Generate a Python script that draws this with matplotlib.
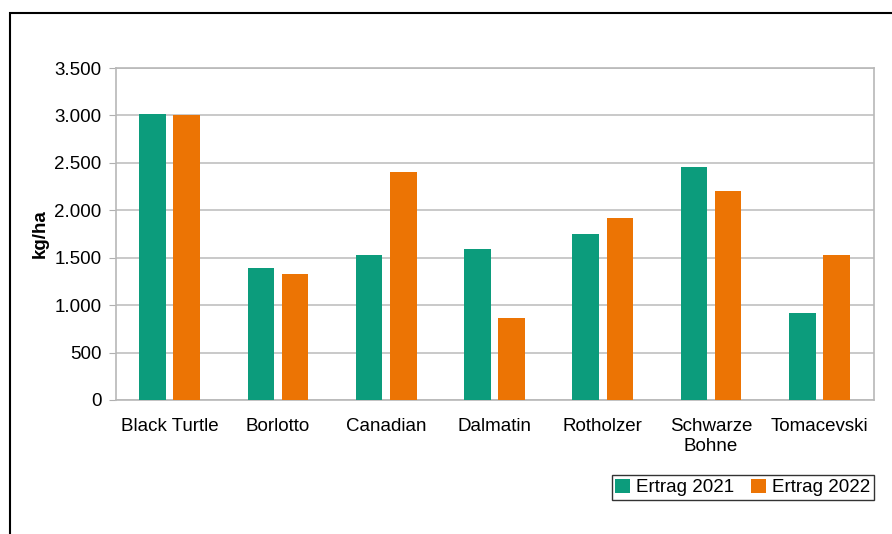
import numpy as np
import matplotlib.pyplot as plt
from matplotlib.patches import Rectangle

plt.rcParams["font.family"] = ["Liberation Sans", "DejaVu Sans"]

# Daten: Ertrag in kg/ha
sorten = ["Black Turtle", "Borlotto", "Canadian", "Dalmatin", "Rotholzer",
          "Schwarze\nBohne", "Tomacevski"]
ertrag_2021 = [3015, 1390, 1530, 1590, 1750, 2455, 915]
ertrag_2022 = [3000, 1330, 2400, 865, 1915, 2200, 1530]

gruen = "#0c9c7c"
orange = "#ec7404"

fig = plt.figure(figsize=(8.92, 5.34), dpi=100)
ax = fig.add_axes([115.5 / 892, 134 / 534, 758 / 892, 332 / 534])

x = np.arange(len(sorten))
w = 0.245
ax.bar(x - 0.158, ertrag_2021, w, color=gruen, label="Ertrag 2021", zorder=3)
ax.bar(x + 0.158, ertrag_2022, w, color=orange, label="Ertrag 2022", zorder=3)

ax.set_xlim(-0.5, len(sorten) - 0.5)
ax.set_ylim(0, 3500)
ax.set_yticks(np.arange(0, 3501, 500))
ax.set_yticklabels([f"{v:,}".replace(",", ".") for v in range(0, 3501, 500)])
ax.set_xticks(x)
ax.set_xticklabels(sorten, linespacing=1.25)
ax.tick_params(axis="x", length=0, pad=13, labelsize=13.5)
ax.tick_params(axis="y", length=5, color="#b0b0b0", pad=5, labelsize=13.5)
ax.yaxis.grid(True, color="#c0c0c0", linewidth=1.2, zorder=0)
for s in ax.spines.values():
    s.set_color("#b8b8b8")
    s.set_linewidth(1.2)

ax.set_ylabel("kg/ha", fontsize=13.5, fontweight="bold", labelpad=4)

leg = ax.legend(loc="upper right", bbox_to_anchor=(1.0, -0.226), ncol=2,
                frameon=True, fancybox=False, fontsize=13.5, handlelength=0.8,
                handleheight=0.8, handletextpad=0.3, columnspacing=0.9,
                borderpad=0.2, borderaxespad=0)
leg.get_frame().set_edgecolor("black")
leg.get_frame().set_linewidth(1.0)

# äußerer Rahmen
fig.patches.append(Rectangle((10 / 892, -0.1), 1.2, 1 - 13 / 534 + 0.1,
                             transform=fig.transFigure, fill=False,
                             edgecolor="black", linewidth=1.5))

fig.savefig("out.png", dpi=100)
